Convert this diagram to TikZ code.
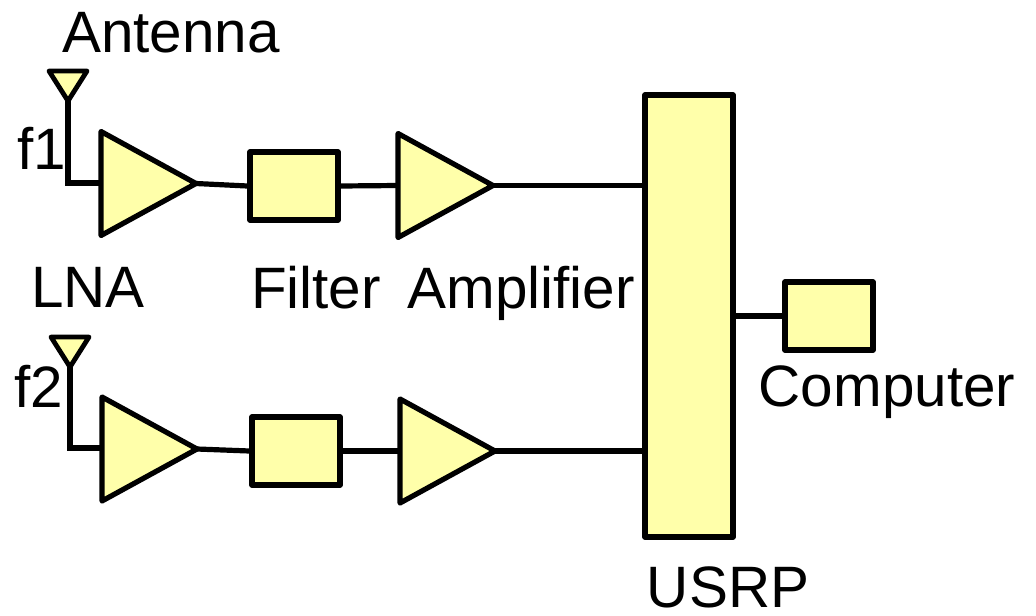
\documentclass[tikz,border=0pt]{standalone}
\usepackage{fontspec}
\setmainfont{Liberation Sans}
\usetikzlibrary{shapes.geometric}
\definecolor{partfill}{HTML}{FFFFAA}
\tikzset{
  amp/.style={shape=isosceles triangle, isosceles triangle stretches, anchor=apex, draw=black, fill=partfill, line width=2.6pt, line join=round, inner sep=0pt, outer sep=0pt, minimum width=52pt, minimum height=47.5pt},
  aerial/.style={shape=isosceles triangle, isosceles triangle stretches, shape border rotate=-90, anchor=apex, draw=black, fill=partfill, line width=2.4pt, line join=round, inner sep=0pt, outer sep=0pt, minimum width=19pt, minimum height=15pt},
  part/.style={shape=rectangle, draw=black, fill=partfill, line width=2.6pt, line join=round, inner sep=0pt, minimum width=44pt, minimum height=34pt},
  wire/.style={draw=black, line width=2.6pt},
  lbl/.style={inner sep=0pt, anchor=base, font=\fontsize{29.2}{32}\selectfont}
}
\begin{document}
\begin{tikzpicture}[x=0.5pt, y=-0.5pt]
\useasboundingbox (0,0) rectangle (1036,615);
\node[aerial] (ant1) at (68,101) {};
\node[aerial] (ant2) at (70,367) {};
\node[amp] (lna1) at (196,183.5) {};
\node[amp] (lna2) at (197,449) {};
\node[amp] (amp1) at (493,185.5) {};
\node[amp] (amp2) at (495,451) {};
\node[part] (filter1) at (294,186) {};
\node[part] (filter2) at (296,451) {};
\node[part, minimum height=221pt] (usrp) at (689,316) {};
\node[part] (computer) at (829,316) {};
\coordinate (bend1) at (68,183);
\coordinate (bend2) at (70,448);
\draw[wire] (ant1.apex) -- (bend1) -- (lna1.lower side |- bend1);
\draw[wire] (ant2.apex) -- (bend2) -- (lna2.lower side |- bend2);
\draw[wire] (lna1.apex) -- (filter1.west);
\draw[wire] (lna2.apex) -- (filter2.west);
\draw[wire] (filter1.east) -- (amp1.lower side);
\draw[wire] (filter2.east) -- (amp2.lower side);
\draw[wire] (amp1.apex) -- (usrp.west |- amp1.apex);
\draw[wire] (amp2.apex) -- (usrp.west |- amp2.apex);
\draw[wire] (usrp.east |- computer.west) -- (computer.west);
\node[lbl] (antenna) at (171,53) {Antenna};
\node[lbl] (f1) at (42,169) {f1};
\node[lbl] (f2) at (39,407) {f2};
\node[lbl] (lna) at (88,307) {LNA};
\node[lbl] (filter) at (316,308) {Filter};
\node[lbl] (amplifier) at (521,308) {Amplifier};
\node[lbl] (computerlbl) at (887,406) {Computer};
\node[lbl] (usrplbl) at (728,607) {USRP};
\end{tikzpicture}
\end{document}
